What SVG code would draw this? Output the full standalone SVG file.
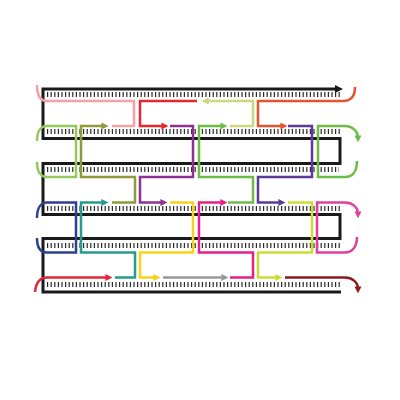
<svg xmlns="http://www.w3.org/2000/svg" width="400" height="400" viewBox="0 0 400 400">
<style>
.s{fill:none;stroke-width:2.5;stroke-linejoin:miter;stroke-linecap:butt}
.scaf{fill:none;stroke:#1a1a1a;stroke-width:3;stroke-linejoin:miter}
.tick{stroke:#2a2a2a;stroke-width:5;stroke-dasharray:1.2 2.4}
</style>
<defs>
<marker id="m-k" viewBox="0 0 8 8" refX="3" refY="4" markerWidth="8" markerHeight="8" markerUnits="userSpaceOnUse" orient="auto"><path d="M0,0L8,4L0,8z" fill="#1a1a1a"/></marker>
<marker id="m-red" viewBox="0 0 8 8" refX="3" refY="4" markerWidth="7" markerHeight="7" markerUnits="userSpaceOnUse" orient="auto"><path d="M0,0L8,4L0,8z" fill="#e8262d"/></marker>
<marker id="m-pyg" viewBox="0 0 8 8" refX="3" refY="4" markerWidth="7" markerHeight="7" markerUnits="userSpaceOnUse" orient="auto"><path d="M0,0L8,4L0,8z" fill="#cdd77f"/></marker>
<marker id="m-ro" viewBox="0 0 8 8" refX="3" refY="4" markerWidth="7" markerHeight="7" markerUnits="userSpaceOnUse" orient="auto"><path d="M0,0L8,4L0,8z" fill="#e6532c"/></marker>
<marker id="m-ol" viewBox="0 0 8 8" refX="3" refY="4" markerWidth="7" markerHeight="7" markerUnits="userSpaceOnUse" orient="auto"><path d="M0,0L8,4L0,8z" fill="#8f9a3a"/></marker>
<marker id="m-pu" viewBox="0 0 8 8" refX="3" refY="4" markerWidth="7" markerHeight="7" markerUnits="userSpaceOnUse" orient="auto"><path d="M0,0L8,4L0,8z" fill="#8e3192"/></marker>
<marker id="m-gr" viewBox="0 0 8 8" refX="3" refY="4" markerWidth="7" markerHeight="7" markerUnits="userSpaceOnUse" orient="auto"><path d="M0,0L8,4L0,8z" fill="#6cbd45"/></marker>
<marker id="m-bv" viewBox="0 0 8 8" refX="3" refY="4" markerWidth="7" markerHeight="7" markerUnits="userSpaceOnUse" orient="auto"><path d="M0,0L8,4L0,8z" fill="#5b3b97"/></marker>
<marker id="m-te" viewBox="0 0 8 8" refX="3" refY="4" markerWidth="7" markerHeight="7" markerUnits="userSpaceOnUse" orient="auto"><path d="M0,0L8,4L0,8z" fill="#279a8c"/></marker>
<marker id="m-ye" viewBox="0 0 8 8" refX="3" refY="4" markerWidth="7" markerHeight="7" markerUnits="userSpaceOnUse" orient="auto"><path d="M0,0L8,4L0,8z" fill="#f8d21b"/></marker>
<marker id="m-ma" viewBox="0 0 8 8" refX="3" refY="4" markerWidth="7" markerHeight="7" markerUnits="userSpaceOnUse" orient="auto"><path d="M0,0L8,4L0,8z" fill="#e4208c"/></marker>
<marker id="m-yg" viewBox="0 0 8 8" refX="3" refY="4" markerWidth="7" markerHeight="7" markerUnits="userSpaceOnUse" orient="auto"><path d="M0,0L8,4L0,8z" fill="#c9de35"/></marker>
<marker id="m-ma2" viewBox="0 0 8 8" refX="3" refY="4" markerWidth="7" markerHeight="7" markerUnits="userSpaceOnUse" orient="auto"><path d="M0,0L8,4L0,8z" fill="#e0409a"/></marker>
<marker id="m-red2" viewBox="0 0 8 8" refX="3" refY="4" markerWidth="7" markerHeight="7" markerUnits="userSpaceOnUse" orient="auto"><path d="M0,0L8,4L0,8z" fill="#e3263a"/></marker>
<marker id="m-gy" viewBox="0 0 8 8" refX="3" refY="4" markerWidth="7" markerHeight="7" markerUnits="userSpaceOnUse" orient="auto"><path d="M0,0L8,4L0,8z" fill="#999999"/></marker>
<marker id="m-dr" viewBox="0 0 8 8" refX="3" refY="4" markerWidth="7" markerHeight="7" markerUnits="userSpaceOnUse" orient="auto"><path d="M0,0L8,4L0,8z" fill="#8c1b1e"/></marker>
</defs>
<rect width="400" height="400" fill="#ffffff"/>
<g id="ticks">
<line class="tick" x1="47" y1="94.5" x2="341" y2="94.5"/>
<line class="tick" x1="47" y1="131.5" x2="341" y2="131.5"/>
<line class="tick" x1="47" y1="169.5" x2="339" y2="169.5"/>
<line class="tick" x1="47" y1="208.5" x2="341" y2="208.5"/>
<line class="tick" x1="47" y1="245.5" x2="341" y2="245.5"/>
<line class="tick" x1="47" y1="284.5" x2="341" y2="284.5"/>
</g>
<g id="scaffold">
<path class="scaf" d="M341,292 L43,292 L43,238.5 L340,238.5 L340,214.5 L43,214.5 L43,163.5 L340,163.5 L340,138.5 L43,138.5 L43,89 L338,89" marker-end="url(#m-k)"/>
</g>
<g id="connectors">
<g id="pink"><path class="s" stroke="#f3a0a6" d="M37,85 C37,96 41,101 47,101 L134,101 L134,126 L112,126"/></g>
<g id="red"><path class="s" stroke="#e8262d" d="M197,101 L140,101 L140,126 L164,126" marker-end="url(#m-red)"/></g>
<g id="paleyg"><path class="s" stroke="#cdd77f" d="M230,126 L253,126 L253,101 L206,101" marker-end="url(#m-pyg)"/></g>
<g id="redorange"><path class="s" stroke="#e6532c" d="M355,87 C355,97 350,101 343,101 L258,101 L258,126 L283,126" marker-end="url(#m-ro)"/></g>
<g id="lightgreen"><path class="s" stroke="#94c95c" d="M37,141 C37,131 41,126 47,126 L76,126 L76,177 L47,177 C41,177 37,172 37,162"/></g>
<g id="olive"><path class="s" stroke="#8f9a3a" d="M112,202.5 L135,202.5 L135,177 L81,177 L81,126 L104,126" marker-end="url(#m-ol)"/></g>
<g id="purple"><path class="s" stroke="#8e3192" d="M170,126 L193,126 L193,177 L140,177 L140,202.5 L163,202.5" marker-end="url(#m-pu)"/></g>
<g id="green"><path class="s" stroke="#6cbd45" d="M228,202.5 L253,202.5 L253,177 L199,177 L199,126 L223,126" marker-end="url(#m-gr)"/></g>
<g id="blueviolet"><path class="s" stroke="#5b3b97" d="M288,126 L312,126 L312,177 L258,177 L258,202.5 L281,202.5" marker-end="url(#m-bv)"/></g>
<g id="greenright"><path class="s" stroke="#6cbd45" d="M357,161 C357,172 352,177 345,177 L318,177 L318,126 L345,126 C352,126 358,131 358,138" marker-end="url(#m-gr)"/></g>
<g id="navy"><path class="s" stroke="#2f3f8f" d="M37,218 C37,208 41,202.5 47,202.5 L76,202.5 L76,252.5 L47,252.5 C41,252.5 37,248 37,238"/></g>
<g id="teal"><path class="s" stroke="#279a8c" d="M115,277.5 L135,277.5 L135,252.5 L81,252.5 L81,202.5 L104,202.5" marker-end="url(#m-te)"/></g>
<g id="yellow"><path class="s" stroke="#f8d21b" d="M170,202.5 L193,202.5 L193,252.5 L140,252.5 L140,277.5 L156,277.5" marker-end="url(#m-ye)"/></g>
<g id="magenta"><path class="s" stroke="#e4208c" d="M230,277.5 L253,277.5 L253,252.5 L199,252.5 L199,202.5 L223,202.5" marker-end="url(#m-ma)"/></g>
<g id="yellowgreen"><path class="s" stroke="#c9de35" d="M288,202.5 L312,202.5 L312,252.5 L258,252.5 L258,277.5 L278,277.5" marker-end="url(#m-yg)"/></g>
<g id="magentaright"><path class="s" stroke="#e0409a" d="M357,237 C357,247 352,252.5 345,252.5 L317,252.5 L317,202.5 L345,202.5 C352,202.5 358,207 358,214" marker-end="url(#m-ma2)"/></g>
<g id="red6"><path class="s" stroke="#e3263a" d="M35,292 C36,282 40,277.5 47,277.5 L108,277.5" marker-end="url(#m-red2)"/></g>
<g id="gray"><path class="s" stroke="#999999" d="M163,277.5 L224,277.5" marker-end="url(#m-gy)"/></g>
<g id="darkred"><path class="s" stroke="#8c1b1e" d="M285,277.5 L345,277.5 C352,277.5 358,282 358,289" marker-end="url(#m-dr)"/></g>
</g>
</svg>
